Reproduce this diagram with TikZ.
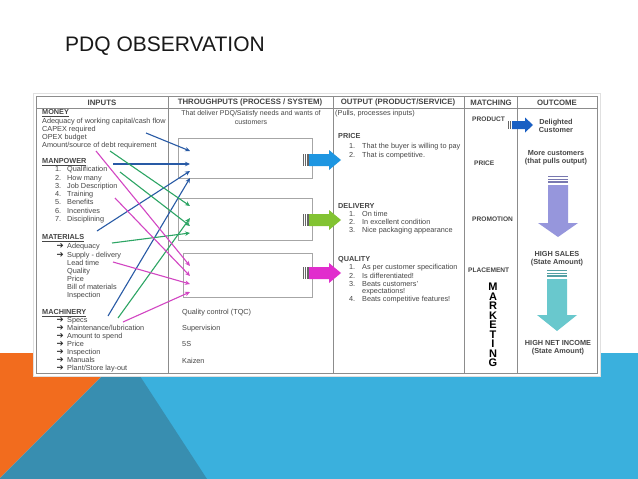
\documentclass[tikz,border=0pt]{standalone}
\usepackage{fontspec}
\setmainfont{Liberation Sans}
\newfontfamily\symfont{DejaVu Sans}
\usepackage{tikz}
\usetikzlibrary{arrows.meta,positioning,calc}

\definecolor{slideorange}{RGB}{242,108,30}
\definecolor{slidedark}{RGB}{56,142,176}
\definecolor{slideblue}{RGB}{58,176,221}
\definecolor{linkblue}{RGB}{40,90,165}
\definecolor{linkgreen}{RGB}{45,165,100}
\definecolor{linkpink}{RGB}{210,70,195}
\definecolor{fatblue}{RGB}{30,150,225}
\definecolor{fatgreen}{RGB}{130,195,50}
\definecolor{fatpink}{RGB}{225,45,205}
\definecolor{prodblue}{RGB}{25,95,195}
\definecolor{salespurple}{RGB}{150,150,220}
\definecolor{incometeal}{RGB}{105,200,205}
\definecolor{txtgray}{RGB}{70,70,70}

\begin{document}
\begin{tikzpicture}[x=1pt, y=-1pt,
    cell/.style={inner sep=0pt, text=txtgray, font=\fontsize{7.3}{8.2}\selectfont, text height=5.4pt, text depth=1.6pt, anchor=west},
    sect/.style={cell, font=\bfseries\fontsize{7.3}{8.2}\selectfont},
    head/.style={inner sep=0pt, text=txtgray, font=\bfseries\fontsize{7.8}{9}\selectfont},
    match/.style={cell, font=\bfseries\fontsize{6.6}{8}\selectfont},
    outc/.style={inner sep=0pt, align=center, text=txtgray, font=\bfseries\fontsize{7.3}{8.2}\selectfont},
    tbox/.style={draw=black!35, line width=0.6pt, minimum width=134, minimum height=40},
    link/.style={line width=1.1pt, -{Stealth[length=5pt, width=4.5pt]}},
    grid/.style={draw=black!45, line width=0.6pt}]
    \useasboundingbox (0,0) rectangle (638,479);
    % slide background
    \fill[white] (0,0) rectangle (638,479);
    \fill[slideblue] (120,353) rectangle (638,479);
    \fill[slideorange] (0,353) -- (125,353) -- (0,478) -- cycle;
    \fill[slidedark] (125,353) -- (207,479) -- (0,479) -- (0,478) -- cycle;
    \node[anchor=west, inner sep=0pt, font=\fontsize{21}{25}\selectfont, text=black!90] (title) at (65,46) {PDQ OBSERVATION};

    % table frame
    \fill[white, draw=black!12] (33,93) rectangle (600,376);
    \draw[grid] (36,96) rectangle (597,373);
    \draw[grid] (36,108) -- (597,108);
    \foreach \x in {168,333,464,517}
        \draw[grid] (\x,96) -- (\x,373);

    \node[head] (hin) at (102,102.5) {INPUTS};
    \node[head] (hthru) at (250,102.5) {THROUGHPUTS (PROCESS / SYSTEM)};
    \node[head] (hout) at (398,102.5) {OUTPUT (PRODUCT/SERVICE)};
    \node[head] (hmatch) at (491,102.5) {MATCHING};
    \node[head] (hcome) at (557,102.5) {OUTCOME};

    % inputs
    \node[sect] (money) at (42,113) {\underline{MONEY}};
    \foreach \t [count=\i] in {Adequacy of working capital/cash flow, CAPEX required, OPEX budget, Amount/source of debt requirement}
        \node[cell] (mon\i) at (42,113+8.2*\i) {\t};
    \node[sect] (manpower) at (42,162) {\underline{MANPOWER}};
    \foreach \t [count=\i] in {Qualification, How many, Job Description, Training, Benefits, Incentives, Disciplining}
        \node[cell] (man\i) at (67,161.75+8.25*\i) {\llap{\i.\hspace{6pt}}\t};
    \node[sect] (materials) at (42,238) {\underline{MATERIALS}};
    \foreach \t [count=\i] in {Adequacy, Supply - delivery}
        \node[cell] (mat\i) at (67,238.85+8.15*\i) {\llap{\symfont\fontsize{8.5}{8.5}\selectfont\color{black!85}➔\hspace{3.5pt}}\t};
    \foreach \t [count=\i from 3] in {Lead time, Quality, Price, Bill of materials, Inspection}
        \node[cell] (mat\i) at (67,238.85+8.15*\i) {\t};
    \node[sect] (machinery) at (42,313) {\underline{MACHINERY}};
    \foreach \t [count=\i] in {Specs, Maintenance/lubrication, Amount to spend, Price, Inspection, Manuals, Plant/Store lay-out}
        \node[cell] (mac\i) at (67,313+8*\i) {\llap{\symfont\fontsize{8.5}{8.5}\selectfont\color{black!85}➔\hspace{3.5pt}}\t};

    % throughputs
    \node[inner sep=0pt, align=center, text=txtgray, font=\fontsize{7}{9}\selectfont] (deliver) at (251,117.5) {That deliver PDQ/Satisfy needs and wants of\\customers};
    \node[tbox] (box1) at (245,158) {};
    \node[tbox, minimum height=42] (box2) at (245,219) {};
    \node[tbox, minimum width=129, minimum height=44] (box3) at (247.5,275) {};
    \foreach \t/\y [count=\i] in {Quality control (TQC)/313, Supervision/329, 5S/345, Kaizen/362}
        \node[cell] (tq\i) at (182,\y) {\t};

    % links from inputs to the process boxes
    \foreach \n/\sx/\sy/\ex/\ey/\c in {b1/146/133/190/151/linkblue, b2/113/164/190/164/linkblue,
        b3/97/231/190/171/linkblue, b4/108/316/190/178/linkblue,
        g1/110/151/190/206/linkgreen, g2/120/172/190/226/linkgreen,
        g3/112/243/190/233/linkgreen, g4/118/318/190/218/linkgreen,
        m1/96/151/190/266/linkpink, m2/115/198/190/276/linkpink,
        m3/113/262/190/284/linkpink, m4/123/322/190/292/linkpink}
    {
        \coordinate (\n s) at (\sx,\sy);
        \coordinate (\n e) at (\ex,\ey);
        \draw[link, \c] (\n s) -- (\n e);
    }

    % striped block arrows into the output column
    \foreach \y/\c in {160/fatblue, 220/fatgreen, 273/fatpink} {
        \foreach \s in {0,2.2,4.4}
            \fill[black!60] (303+\s,\y-6) rectangle ++(1.2,12);
        \fill[\c] (309,\y-6) -- (329,\y-6) -- (329,\y-10) -- (341,\y) -- (329,\y+10) -- (329,\y+6) -- (309,\y+6) -- cycle;
    }

    % output
    \node[cell] (pulls) at (335,114) {(Pulls, processes inputs)};
    \node[sect] (price) at (338,137) {PRICE};
    \node[cell] (pr1) at (362,147) {\llap{1.\hspace{7pt}}That the buyer is willing to pay};
    \node[cell] (pr2) at (362,156) {\llap{2.\hspace{7pt}}That is competitive.};
    \node[sect] (delivery) at (338,207) {DELIVERY};
    \node[cell] (de1) at (362,215) {\llap{1.\hspace{7pt}}On time};
    \node[cell] (de2) at (362,223) {\llap{2.\hspace{7pt}}In excellent condition};
    \node[cell] (de3) at (362,231) {\llap{3.\hspace{7pt}}Nice packaging appearance};
    \node[sect] (quality) at (338,260) {QUALITY};
    \node[cell] (qu1) at (362,268) {\llap{1.\hspace{7pt}}As per customer specification};
    \node[cell] (qu2) at (362,276.5) {\llap{2.\hspace{7pt}}Is differentiated!};
    \node[cell] (qu3) at (362,284.5) {\llap{3.\hspace{7pt}}Beats customers'};
    \node[cell] (qu3b) at (362,292) {expectations!};
    \node[cell] (qu4) at (362,300) {\llap{4.\hspace{7pt}}Beats competitive features!};

    % matching
    \node[match] (mprod) at (472,120) {PRODUCT};
    \node[match] (mprice) at (474,164) {PRICE};
    \node[match] (mpromo) at (472,220) {PROMOTION};
    \node[match] (mplace) at (468,271) {PLACEMENT};
    \foreach \l [count=\i] in {M,A,R,K,E,T,I,N,G}
        \node[inner sep=0pt, font=\bfseries\fontsize{11}{11}\selectfont] (mk\i) at (493,287+9.5*\i-9.5) {\l};
    \foreach \s in {0,1.8}
        \fill[black!60] (508+\s,121) rectangle ++(1,8);
    \fill[prodblue] (512,121) -- (525,121) -- (525,117.5) -- (533,125) -- (525,132.5) -- (525,129) -- (512,129) -- cycle;

    % outcome
    \node[outc] (delight) at (556,126) {Delighted\\Customer};
    \node[outc] (more) at (556,158) {More customers\\(that pulls output)};
    \node[outc] (sales) at (557,259) {HIGH SALES\\(State Amount)};
    \node[outc] (income) at (558,348) {HIGH NET INCOME\\(State Amount)};
    \foreach \s in {0,2.6,5.2}
        \fill[salespurple!80!black] (548,176+\s) rectangle ++(20,1.4);
    \fill[salespurple] (548,185) -- (568,185) -- (568,223) -- (578,223) -- (558,237) -- (538,223) -- (548,223) -- cycle;
    \foreach \s in {0,2.6,5.2}
        \fill[incometeal!80!black] (547,270+\s) rectangle ++(20,1.4);
    \fill[incometeal] (547,279) -- (567,279) -- (567,315) -- (577,315) -- (557,331) -- (537,315) -- (547,315) -- cycle;
\end{tikzpicture}
\end{document}
